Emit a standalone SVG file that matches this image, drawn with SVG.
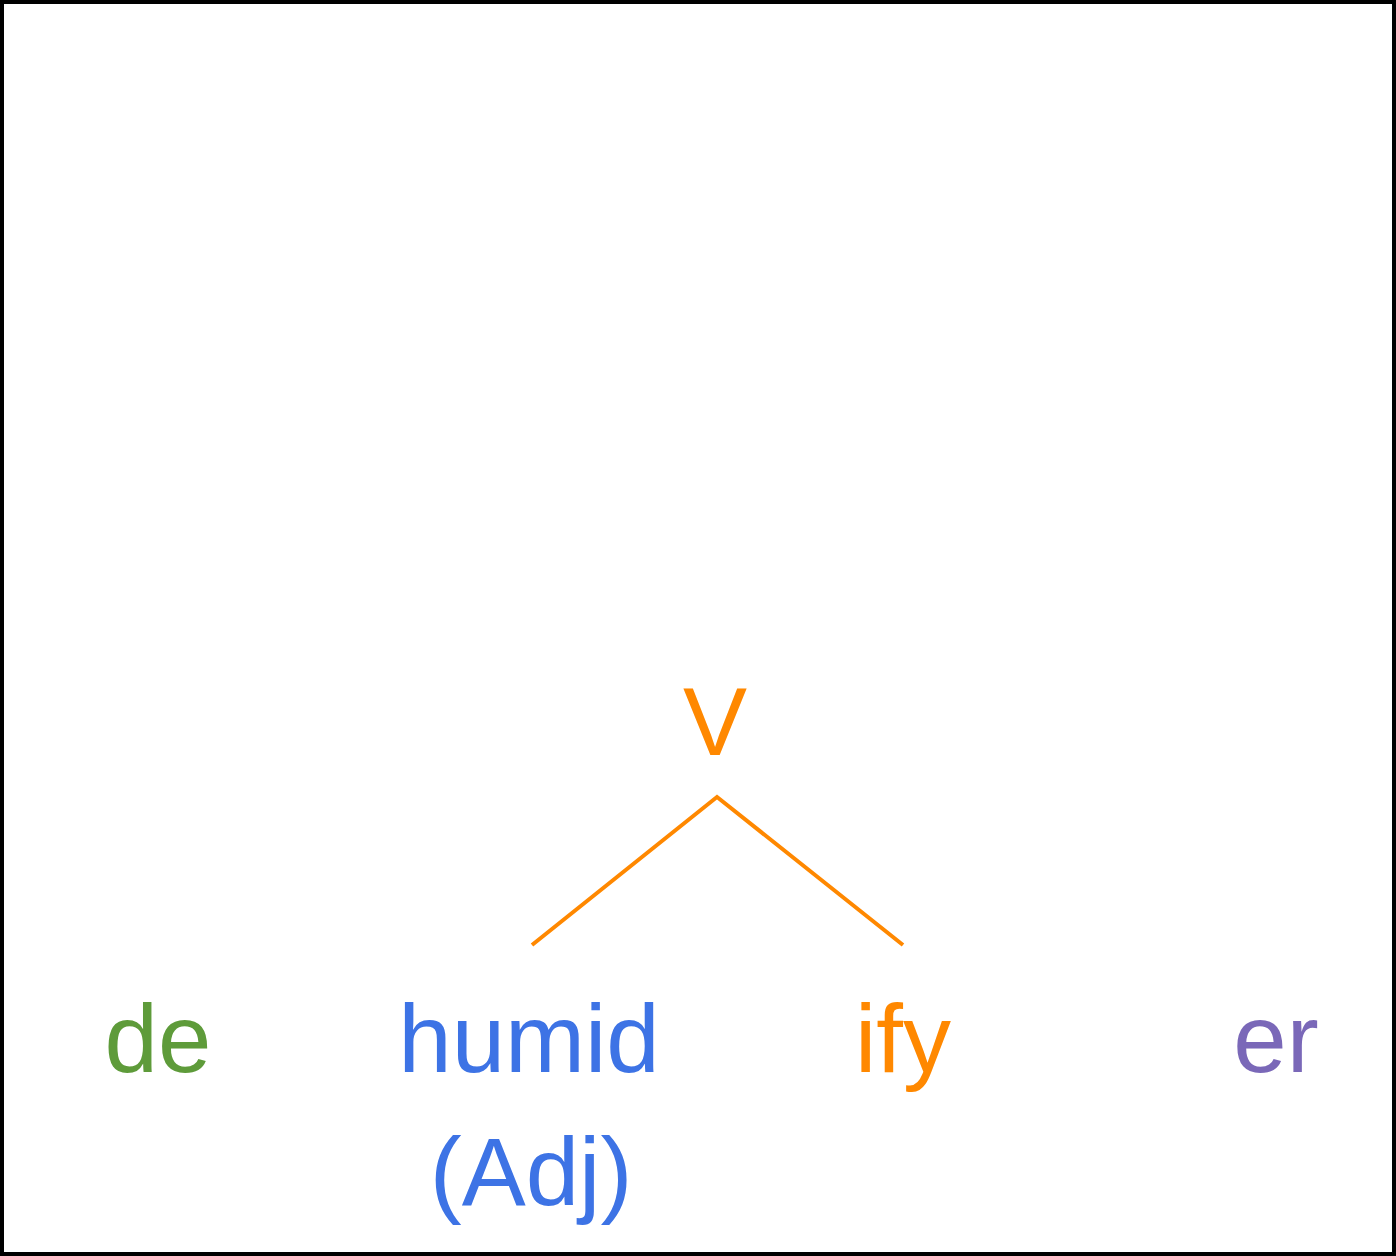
<svg xmlns="http://www.w3.org/2000/svg" width="1396" height="1256" viewBox="0 0 1396 1256">
<style>
text{font-family:"Liberation Sans",Arial,sans-serif;font-size:96px;text-anchor:middle}
.edge{stroke:#ff8800;stroke-width:4;fill:none}
</style>
<rect x="2" y="2" width="1392" height="1252" fill="#ffffff" stroke="#000000" stroke-width="4"/>
<g id="connectors">
<path class="edge" d="M532,945 L717,797 L903,945"/>
</g>
<g id="node-V"><text x="715" y="755" fill="#ff8800">V</text></g>
<g id="node-de"><text x="158" y="1072" fill="#5e9b3a">de</text></g>
<g id="node-humid"><text x="529" y="1072" fill="#3d73e5">humid</text><text x="531" y="1205" fill="#3d73e5">(Adj)</text></g>
<g id="node-ify"><text x="903" y="1072" fill="#ff8800">ify</text></g>
<g id="node-er"><text x="1276" y="1072" fill="#7a68b8">er</text></g>
</svg>
